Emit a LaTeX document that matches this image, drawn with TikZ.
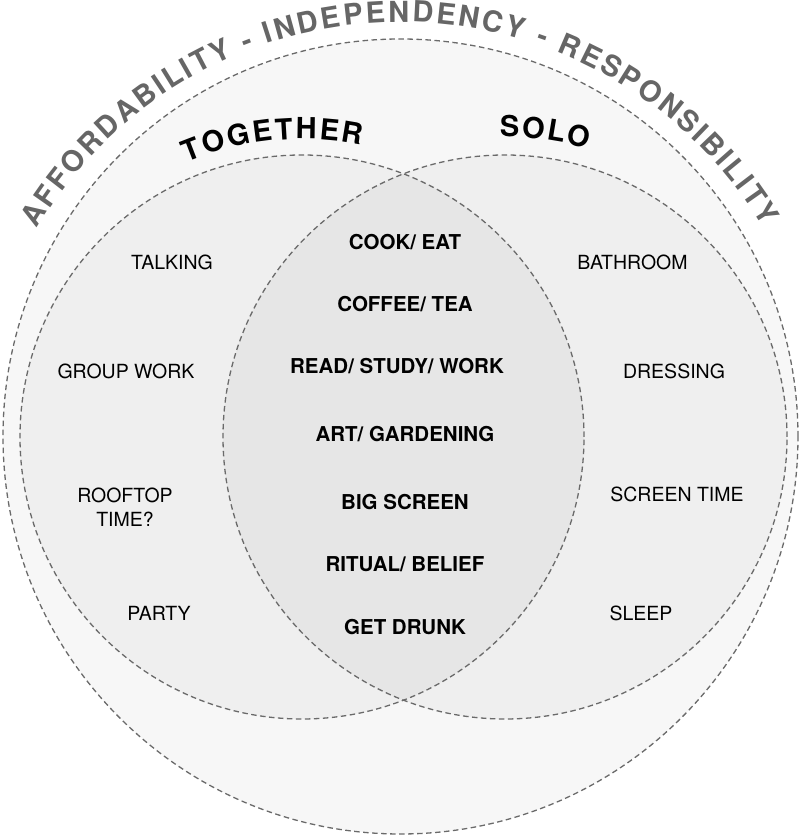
\documentclass[tikz,border=0pt]{standalone}
\usepackage{fontspec}
\setmainfont{TeX Gyre Heros}
\usetikzlibrary{decorations.text}
\definecolor{ringline}{HTML}{6A6A6A}
\definecolor{outerfill}{HTML}{F7F7F7}
\definecolor{setfill}{HTML}{EFEFEF}
\definecolor{lensfill}{HTML}{E6E6E6}
\definecolor{arcgray}{HTML}{666666}
\newcommand{\bigcaps}{\fontsize{29}{32}\selectfont\bfseries}
\tikzset{
  ring/.style={draw=ringline,line width=1.3pt,dash pattern=on 5.5pt off 3.5pt},
  act/.style={anchor=base,align=center,inner sep=0pt,font=\fontsize{19.5}{24}\selectfont},
  shared/.style={anchor=base,align=center,inner sep=0pt,font=\fontsize{20.5}{24}\selectfont\bfseries},
  bendtext/.style={decorate,decoration={text along path,text align={fit to path},text color=#1}}
}

\begin{document}
\begin{tikzpicture}[x=1pt,y=1pt]
\useasboundingbox (0,0) rectangle (800,838);
\coordinate (O) at (400.5,401.5);
\coordinate (L) at (302,401);
\coordinate (R) at (505,401);
\coordinate (T) at (400.5,393);
% shaded sets
\fill[outerfill] (O) circle[radius=397.5];
\fill[setfill] (L) circle[radius=282];
\fill[setfill] (R) circle[radius=282];
\begin{scope}
  \clip (L) circle[radius=282];
  \fill[lensfill] (R) circle[radius=282];
\end{scope}
\draw[ring] (O) circle[radius=397.5];
\draw[ring] (L) circle[radius=282];
\draw[ring] (R) circle[radius=282];
% curved titles
\path[bendtext=arcgray,decoration={text={|\bigcaps|AFFORDABILITY - INDEPENDENCY - RESPONSIBILITY}}]
  (T) ++(149.3:423) arc[start angle=149.3,end angle=31,radius=423];
\path[bendtext=black,decoration={text={|\bigcaps|TOGETHER}}]
  (L) ++(112.8:298) arc[start angle=112.8,end angle=78.5,radius=298];
\path[bendtext=black,decoration={text={|\bigcaps|SOLO}}]
  (R) ++(91:300) arc[start angle=91,end angle=74,radius=300];
% together
\node[act] (talk) at (172,568) {TALKING};
\node[act] (group) at (126,459) {GROUP WORK};
\node[act] (roof) at (125,311) {ROOFTOP\\TIME?};
\node[act] (party) at (159,217) {PARTY};
% both
\node[shared] (cook) at (405,588) {COOK/ EAT};
\node[shared] (coffee) at (405,526) {COFFEE/ TEA};
\node[shared] (read) at (397,464) {READ/ STUDY/ WORK};
\node[shared] (art) at (405,396) {ART/ GARDENING};
\node[shared] (screen) at (405,328) {BIG SCREEN};
\node[shared] (ritual) at (405,266) {RITUAL/ BELIEF};
\node[shared] (drunk) at (405,203) {GET DRUNK};
% solo
\node[act] (bath) at (632.5,568) {BATHROOM};
\node[act] (dress) at (674,459) {DRESSING};
\node[act] (stime) at (677,336) {SCREEN TIME};
\node[act] (sleep) at (641,217) {SLEEP};
\end{tikzpicture}
\end{document}
